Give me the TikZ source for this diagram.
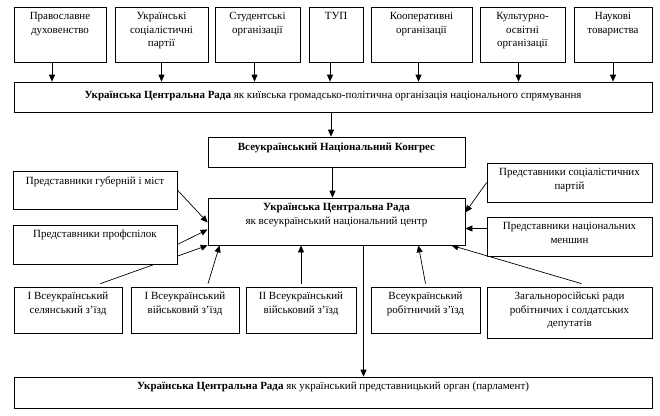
\documentclass[tikz,border=0pt]{standalone}
\usepackage{fontspec}
\setmainfont{Liberation Serif}
\usetikzlibrary{fit,calc,arrows.meta,backgrounds}
\begin{document}
\begin{tikzpicture}[x=1pt,y=-1pt,
  box/.style={draw=black, line width=0.7pt, fill=white, inner sep=0pt},
  tx/.style={font=\fontsize{11}{13.5}\selectfont, align=center, inner sep=0pt, anchor=north, yshift=-5.5pt},
  arr/.style={draw=black, line width=0.7pt, -{Triangle[length=7pt,width=6pt]}},
  ln/.style={draw=black, line width=0.7pt}]
\useasboundingbox (0,0) rectangle (660,415);
% top row
\node[box, fit={(14,7) (106,62)}] (a1) {};
\node[box, fit={(115,7) (208,62)}] (a2) {};
\node[box, fit={(215,7) (300,62)}] (a3) {};
\node[box, fit={(309,7) (363,62)}] (a4) {};
\node[box, fit={(371,7) (472,62)}] (a5) {};
\node[box, fit={(480,7) (565,62)}] (a6) {};
\node[box, fit={(574,7) (652,62)}] (a7) {};
\node[tx] (a1t) at (a1.north) {Православне\\духовенство};
\node[tx] (a2t) at (a2.north) {Українські\\соціалістичні\\партії};
\node[tx] (a3t) at (a3.north) {Студентські\\організації};
\node[tx] (a4t) at (a4.north) {ТУП};
\node[tx] (a5t) at (a5.north) {Кооперативні\\організації};
\node[tx] (a6t) at (a6.north) {Культурно-\\освітні\\організації};
\node[tx] (a7t) at (a7.north) {Наукові\\товариства};
% main box
\node[box, fit={(14,82) (652,112)}] (m) {};
\node[font=\fontsize{11}{13.5}\selectfont, inner sep=0pt] (mt) at ([yshift=1pt]m.center) {\textbf{Українська Центральна Рада} як київська громадсько-політична організація національного спрямування};
% congress
\node[box, fit={(208,137) (465,167)}] (c) {};
\node[tx, yshift=-1pt] (ct) at (c.north) {\textbf{Всеукраїнський Національний Конгрес}};
% central
\node[box, fit={(208,198) (465,245)}] (r) {};
\node[tx] (rt) at (r.north) {\textbf{Українська Центральна Рада}\\як всеукраїнський національний центр};
% left
\node[box, fit={(13,171) (177,209)}] (l1) {};
\node[tx] (l1t) at (l1.north) {Представники губерній і міст};
\node[box, fit={(13,225) (177,264)}] (l2) {};
\node[tx] (l2t) at (l2.north) {Представники профспілок};
% right
\node[box, fit={(487,163) (652,202)}] (q1) {};
\node[tx] (q1t) at (q1.north) {Представники соціалістичних\\партій};
\node[box, fit={(487,217) (652,256)}] (q2) {};
\node[tx] (q2t) at (q2.north) {Представники національних\\меншин};
% bottom row
\node[box, fit={(14,287) (122,333)}] (b1) {};
\node[box, fit={(131,287) (239,333)}] (b2) {};
\node[box, fit={(246,287) (356,333)}] (b3) {};
\node[box, fit={(371,287) (480,333)}] (b4) {};
\node[box, fit={(487,287) (652,338)}] (b5) {};
\node[tx] (b1t) at (b1.north) {I Всеукраїнський\\селянський з’їзд};
\node[tx] (b2t) at (b2.north) {I Всеукраїнський\\військовий з’їзд};
\node[tx] (b3t) at (b3.north) {II Всеукраїнський\\військовий з’їзд};
\node[tx] (b4t) at (b4.north) {Всеукраїнський\\робітничий з’їзд};
\node[tx] (b5t) at (b5.north) {Загальноросійські ради\\робітничих і солдатських\\депутатів};
% final
\node[box, fit={(14,377) (652,408)}] (f) {};
\node[tx] (ft) at (f.north) {\textbf{Українська Центральна Рада} як український представницький орган (парламент)};
% connectors
\begin{scope}[on background layer]
\foreach \n/\dx in {a1/-8,a2/0,a3/-3,a4/-6,a5/-3,a6/-4,a7/0}{
  \draw[arr] ([xshift=\dx pt, yshift=-1pt]\n.south) -- ([xshift=\dx pt]\n.south |- m.north);
}
\draw[arr] ([xshift=-2pt]m.south) -- ([xshift=-2pt]m.south |- c.north);
\draw[arr] ([xshift=-4pt]c.south) -- ([xshift=-4pt]c.south |- r.north);
\draw[arr] (l1.east) -- ([yshift=-1pt]r.west);
\draw[arr] (l2.east) -- ([yshift=-8pt]r.west);
\draw[arr] ([xshift=-22pt,yshift=3pt]b1.north east) -- (r.south west);
\draw[arr] ([xshift=23pt,yshift=3pt]b2.north) -- ([xshift=12pt]r.south west);
\draw[arr] ([yshift=3pt]b3.north) -- (b3.north |- r.south);
\draw[arr] ([yshift=3pt]b4.north) -- ([xshift=-47pt]r.south east);
\draw[arr] ([xshift=12pt,yshift=3pt]b5.north) -- ([xshift=-14pt]r.south east);
\draw[arr] (q1.west) -- ([yshift=9pt]r.east);
\draw[arr] ([yshift=8pt]q2.west) -- ([yshift=8pt]q2.west -| r.east);
\draw[arr] ([xshift=27pt]r.south) -- ([xshift=27pt]r.south |- f.north);
\end{scope}
\end{tikzpicture}
\end{document}
